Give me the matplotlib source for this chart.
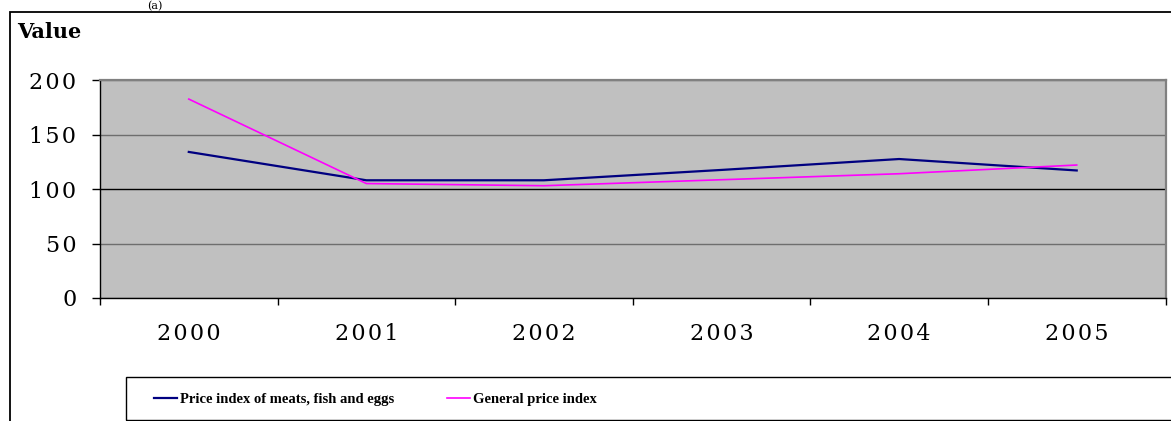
import matplotlib.pyplot as plt
from matplotlib.patches import Rectangle

# data
years = ['2000', '2001', '2002', '2003', '2004', '2005']
meats = [134, 108, 108, 117.5, 127.5, 117]
general = [182.5, 105, 103, 108.5, 114, 122]
yticks = [0, 50, 100, 150, 200]

W, H = 1171, 421


def spaced(s):
    return '\u200a'.join(s)


fig = plt.figure(figsize=(W / 100, H / 100), dpi=100)
fig.patch.set_facecolor('white')

# outer chart border
fig.patches.append(Rectangle((10 / W, -0.05), 1.1, 1 - 12 / H + 0.05, transform=fig.transFigure,
                             fill=False, edgecolor='black', lw=1.3))

ax = fig.add_axes([100 / W, 1 - 298 / H, (1165.5 - 100) / W, (298 - 80) / H])
ax.set_facecolor('#c0c0c0')

x = list(range(len(years)))
l1, = ax.plot(x, meats, color='#000080', lw=1.6, label='Price index of meats, fish and eggs')
l2, = ax.plot(x, general, color='#ff00ff', lw=1.2, label='General price index')

ax.set_xlim(-0.5, len(years) - 0.5)
ax.set_ylim(0, 200)
ax.set_yticks(yticks)
ax.set_yticklabels([spaced(str(v)) for v in yticks], family='DejaVu Serif', fontsize=16)
ax.set_xticks(x)
ax.set_xticklabels([spaced(y) for y in years], family='DejaVu Serif', fontsize=16)
ax.set_xticks([i - 0.5 for i in range(len(years) + 1)], minor=True)
ax.tick_params(axis='x', which='major', length=0, pad=18)
ax.tick_params(axis='x', which='minor', length=5, width=1, direction='out')
ax.tick_params(axis='y', length=6, width=1, direction='out', pad=11)

ax.yaxis.grid(True, color='#6e6e6e', lw=1)
ax.set_axisbelow(True)
grid = ax.get_ygridlines()
grid[2].set_color('black')
for sp in ['top', 'right']:
    ax.spines[sp].set_color('#808080')
    ax.spines[sp].set_linewidth(1.6)
for sp in ['left', 'bottom']:
    ax.spines[sp].set_color('black')
    ax.spines[sp].set_linewidth(1)

fig.text(17 / W, 1 - 32 / H, 'Value', family='DejaVu Serif', fontweight='bold',
         fontsize=15, va='center', ha='left')
fig.text(155 / W, 1 - 1 / H, '(a)', family='DejaVu Serif', fontsize=8, va='top', ha='center')

# legend frame
fig.patches.append(Rectangle((126 / W, 1 - 420 / H), 1.0, 43 / H, transform=fig.transFigure,
                             fill=False, edgecolor='black', lw=1))
fig.legend(handles=[l1, l2], ncol=2, frameon=False, loc='center left',
           bbox_to_anchor=(141 / W, 1 - 399 / H), handlelength=1.6, handletextpad=0.2,
           columnspacing=3.6, prop={'family': 'Liberation Serif', 'weight': 'bold', 'size': 10.5})

fig.savefig('out.png', dpi=100)
